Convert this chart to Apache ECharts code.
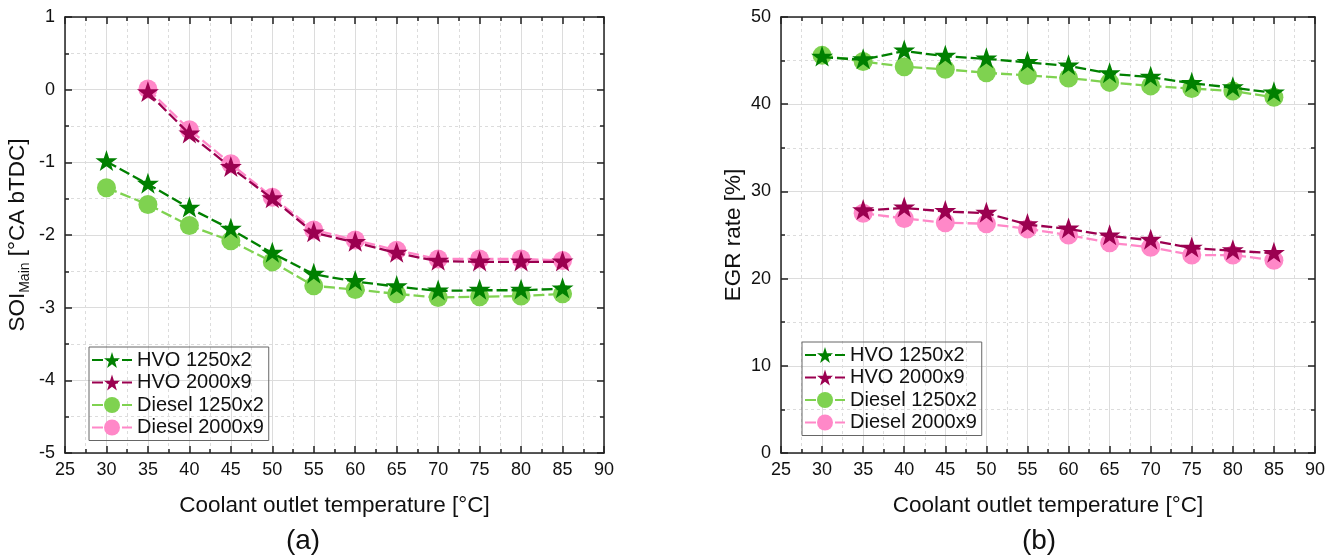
<!DOCTYPE html>
<html>
<head>
<meta charset="utf-8">
<script src="https://cdn.jsdelivr.net/npm/echarts@6/dist/echarts.min.js"></script>
<style>
html,body{margin:0;padding:0;background:#fff;}
#chart{width:1344px;height:560px;}
</style>
</head>
<body>
<div id="chart"></div>
<script>
// ---- data ----
const tempsA = [30, 35, 40, 45, 50, 55, 60, 65, 70, 75, 80, 85];
const tempsB = [35, 40, 45, 50, 55, 60, 65, 70, 75, 80, 85];
const xTicks = [25, 30, 35, 40, 45, 50, 55, 60, 65, 70, 75, 80, 85, 90];

const soiHvo1250    = [-0.99, -1.30, -1.63, -1.92, -2.25, -2.54, -2.64, -2.71, -2.77, -2.76, -2.76, -2.74];
const soiDiesel1250 = [-1.35, -1.58, -1.87, -2.08, -2.37, -2.70, -2.75, -2.81, -2.86, -2.85, -2.84, -2.81];
const soiHvo2000    = [-0.04, -0.61, -1.07, -1.50, -1.97, -2.10, -2.25, -2.36, -2.37, -2.37, -2.37];
const soiDiesel2000 = [0.01, -0.55, -1.02, -1.48, -1.93, -2.07, -2.21, -2.33, -2.33, -2.33, -2.35];

const egrHvo1250    = [45.4, 45.1, 46.1, 45.5, 45.2, 44.8, 44.4, 43.5, 43.1, 42.4, 41.9, 41.3];
const egrDiesel1250 = [45.6, 44.9, 44.3, 44.0, 43.6, 43.3, 43.0, 42.5, 42.1, 41.8, 41.5, 40.8];
const egrHvo2000    = [27.8, 28.1, 27.7, 27.5, 26.2, 25.7, 24.9, 24.4, 23.5, 23.2, 22.9];
const egrDiesel2000 = [27.5, 26.9, 26.4, 26.3, 25.7, 25.0, 24.1, 23.6, 22.7, 22.7, 22.1];

const names = ['HVO 1250x2', 'HVO 2000x9', 'Diesel 1250x2', 'Diesel 2000x9'];

// ---- styling ----
const FONT = '"Liberation Sans", Arial, sans-serif';
const C = {
  'HVO 1250x2': '#008000',
  'HVO 2000x9': '#9b0050',
  'Diesel 1250x2': '#7fd250',
  'Diesel 2000x9': '#ff88c8'
};
const STAR = 'path://M50,0 L61.8,35.1 L98.1,35.1 L68.8,56.7 L79.4,90.9 L50,69.8 L20.6,90.9 L31.2,56.7 L1.9,35.1 L38.2,35.1 Z';

function zip(xs, ys) { return xs.map((x, i) => [x, ys[i]]); }

function mkSeries(name, xs, ys, gi) {
  const isStar = name.indexOf('HVO') === 0;
  return {
    type: 'line',
    name: name,
    xAxisIndex: gi * 2,
    yAxisIndex: gi * 2,
    data: zip(xs, ys),
    symbol: isStar ? STAR : 'circle',
    symbolSize: isStar ? [22, 21] : 19,
    symbolOffset: isStar ? [0, -1] : [0, 0],
    z: isStar ? 4 : 3,
    itemStyle: { color: C[name] },
    lineStyle: { color: C[name], width: 2.3, type: [11, 4] },
    emphasis: { disabled: true },
    animation: false
  };
}

const gridLine = { show: true, lineStyle: { color: '#dcdcdc', width: 1, type: 'solid' } };
const minorGridLine = { show: true, lineStyle: { color: '#dcdcdc', width: 1, type: [3, 3] } };
const axisLineS = { show: true, onZero: false, lineStyle: { color: '#222', width: 1.5 } };

function xAxisPair(gi) {
  const base = {
    type: 'value', gridIndex: gi, min: 25, max: 90, interval: 5,
    axisLine: axisLineS,
    axisTick: { show: true, inside: true, length: 7, lineStyle: { color: '#222', width: 1.5 } },
    minorTick: { show: true, splitNumber: 2, length: 4, lineStyle: { color: '#222', width: 1.5 } }
  };
  return [
    Object.assign({}, base, {
      position: 'bottom',
      axisLabel: { show: true, margin: 8, fontSize: 18, color: '#111', fontFamily: FONT,
        formatter: v => xTicks.indexOf(v) >= 0 ? String(v) : '' },
      splitLine: gridLine,
      minorSplitLine: minorGridLine,
      name: 'Coolant outlet temperature [°C]',
      nameLocation: 'middle',
      nameGap: 41,
      nameTextStyle: { fontSize: 22.5, color: '#111', fontFamily: FONT }
    }),
    Object.assign({}, base, {
      position: 'top',
      axisLabel: { show: false },
      splitLine: { show: false }
    })
  ];
}

function yAxisPair(gi, min, max, interval, nameCfg) {
  const base = {
    type: 'value', gridIndex: gi, min: min, max: max, interval: interval,
    axisLine: axisLineS,
    axisTick: { show: true, inside: true, length: 7, lineStyle: { color: '#222', width: 1.5 } },
    minorTick: { show: true, splitNumber: 2, length: 4, lineStyle: { color: '#222', width: 1.5 } }
  };
  return [
    Object.assign({}, base, {
      position: 'left',
      axisLabel: { show: true, margin: 10, fontSize: 18, color: '#111', fontFamily: FONT },
      splitLine: gridLine,
      minorSplitLine: minorGridLine
    }, nameCfg),
    Object.assign({}, base, {
      position: 'right',
      axisLabel: { show: false },
      splitLine: { show: false }
    })
  ];
}

function mkLegend(left, top) {
  return {
    data: names, orient: 'vertical', left: left, top: top,
    itemWidth: 40, itemHeight: 20, itemGap: 2.5,
    padding: [3, 5, 3, 2],
    borderColor: '#666', borderWidth: 1,
    textStyle: { fontSize: 20, color: '#111', fontFamily: FONT },
    selectedMode: false
  };
}

const chart = echarts.init(document.getElementById('chart'), null, { renderer: 'canvas' });

const option = {
  animation: false,
  backgroundColor: '#ffffff',
  textStyle: { fontFamily: FONT },
  grid: [
    { left: 65, top: 17, width: 539, height: 436 },
    { left: 781, top: 17, width: 534, height: 436 }
  ],
  xAxis: [].concat(xAxisPair(0), xAxisPair(1)),
  yAxis: [].concat(
    yAxisPair(0, -5, 1, 1, {
      name: '{n|SOI}{s|Main}{n| [°CA bTDC]}',
      nameLocation: 'middle',
      nameGap: 33,
      nameTextStyle: {
        fontSize: 22, color: '#111', fontFamily: FONT,
        rich: {
          n: { fontSize: 22.5, color: '#111', fontFamily: FONT },
          s: { fontSize: 14, color: '#111', fontFamily: FONT, verticalAlign: 'bottom', padding: [14, 0, 0, 0] }
        }
      }
    }),
    yAxisPair(1, 0, 50, 10, {
      name: 'EGR rate [%]',
      nameLocation: 'middle',
      nameGap: 36,
      nameTextStyle: { fontSize: 22.5, color: '#111', fontFamily: FONT }
    })
  ),
  legend: [mkLegend(89, 347), mkLegend(802, 342)],
  graphic: [
    { type: 'text', x: 303, y: 541, style: { text: '(a)', fontSize: 28, fill: '#111', fontFamily: FONT, align: 'center', verticalAlign: 'middle' } },
    { type: 'text', x: 1039, y: 541, style: { text: '(b)', fontSize: 28, fill: '#111', fontFamily: FONT, align: 'center', verticalAlign: 'middle' } }
  ],
  series: [
    mkSeries('Diesel 1250x2', tempsA, soiDiesel1250, 0),
    mkSeries('Diesel 2000x9', tempsB, soiDiesel2000, 0),
    mkSeries('HVO 1250x2', tempsA, soiHvo1250, 0),
    mkSeries('HVO 2000x9', tempsB, soiHvo2000, 0),
    mkSeries('Diesel 1250x2', tempsA, egrDiesel1250, 1),
    mkSeries('Diesel 2000x9', tempsB, egrDiesel2000, 1),
    mkSeries('HVO 1250x2', tempsA, egrHvo1250, 1),
    mkSeries('HVO 2000x9', tempsB, egrHvo2000, 1)
  ]
};
chart.setOption(option);
</script>
</body>
</html>
